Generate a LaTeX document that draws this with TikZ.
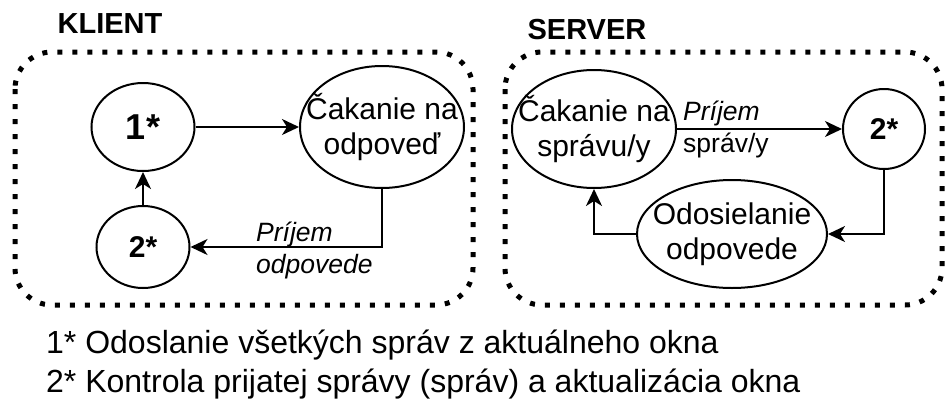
\documentclass[tikz,border=0pt]{standalone}
\usepackage{fontspec}
\setmainfont{Liberation Sans}
\usepackage{tikz}
\usetikzlibrary{shapes.geometric,arrows.meta}
\tikzstyle{state} = [ellipse, draw, line width=2pt, inner xsep=-25pt,
inner ysep=0pt, align=center, font=\fontsize{30}{35}\selectfont]
\tikzstyle{stepnode} = [state, font=\bfseries\fontsize{30}{35}\selectfont]
\tikzstyle{group} = [draw, line width=5pt, dash pattern=on 5pt off 10pt,
rounded corners=37pt]
\tikzstyle{title} = [inner sep=0pt, font=\bfseries\fontsize{29}{33}\selectfont]
\tikzstyle{edgelabel} = [inner sep=0pt, align=left, anchor=west,
font=\fontsize{26.5}{32}\selectfont]
\tikzstyle{legend} = [inner sep=0pt, anchor=base west,
font=\fontsize{32}{39}\selectfont]
\tikzstyle{line} = [draw, line width=2pt, -{Stealth[length=17pt,width=16pt,inset=5pt]}]

\begin{document}
\begin{tikzpicture}[x=1pt, y=-1pt]
        \useasboundingbox (0,0) rectangle (947,399);

        % klient
        \draw [group] (15,52) rectangle (473,305);
        \node [title] (klient) at (110,24) {KLIENT};
        \node [stepnode, minimum width=103pt, minimum height=88pt,
               font=\bfseries\fontsize{36}{40}\selectfont] (one) at (143,127) {1*};
        \node [state, minimum width=164pt, minimum height=122pt] (cakodp) at (382,127) {Čakanie na\\odpoveď};
        \node [stepnode, minimum width=93pt, minimum height=82pt] (twocl) at (143,247) {2*};
        \node [edgelabel] (prijodp) at (256,250) {\itshape Príjem\\\itshape odpovede};

        % server
        \draw [group] (505,52) rectangle (942,305);
        \node [title] (server) at (587,30) {SERVER};
        \node [state, minimum width=164pt, minimum height=118pt] (cakspr) at (594,129) {Čakanie na\\správu/y};
        \node [stepnode, minimum width=82pt, minimum height=80pt] (twosv) at (884,129) {2*};
        \node [state, minimum width=190pt, minimum height=108pt] (odos) at (732,234) {Odosielanie\\odpovede};
        \node [edgelabel] (prijspr) at (683,129) {\itshape Príjem\\správ/y};

        % legenda
        \node [legend] (leg1) at (46,353) {1* Odoslanie všetkých správ z aktuálneho okna};
        \node [legend] (leg2) at (46,392) {2* Kontrola prijatej správy (správ) a aktualizácia okna};

        \path [line] (one) -- (cakodp);
        \path [line] (cakodp.south) |- (twocl.east);
        \path [line] (twocl) -- (one);
        \path [line] (cakspr) -- (twosv);
        \path [line] (twosv.south) |- (odos.east);
        \path [line] (odos.west) -| (cakspr.south);
      \end{tikzpicture}
\end{document}
